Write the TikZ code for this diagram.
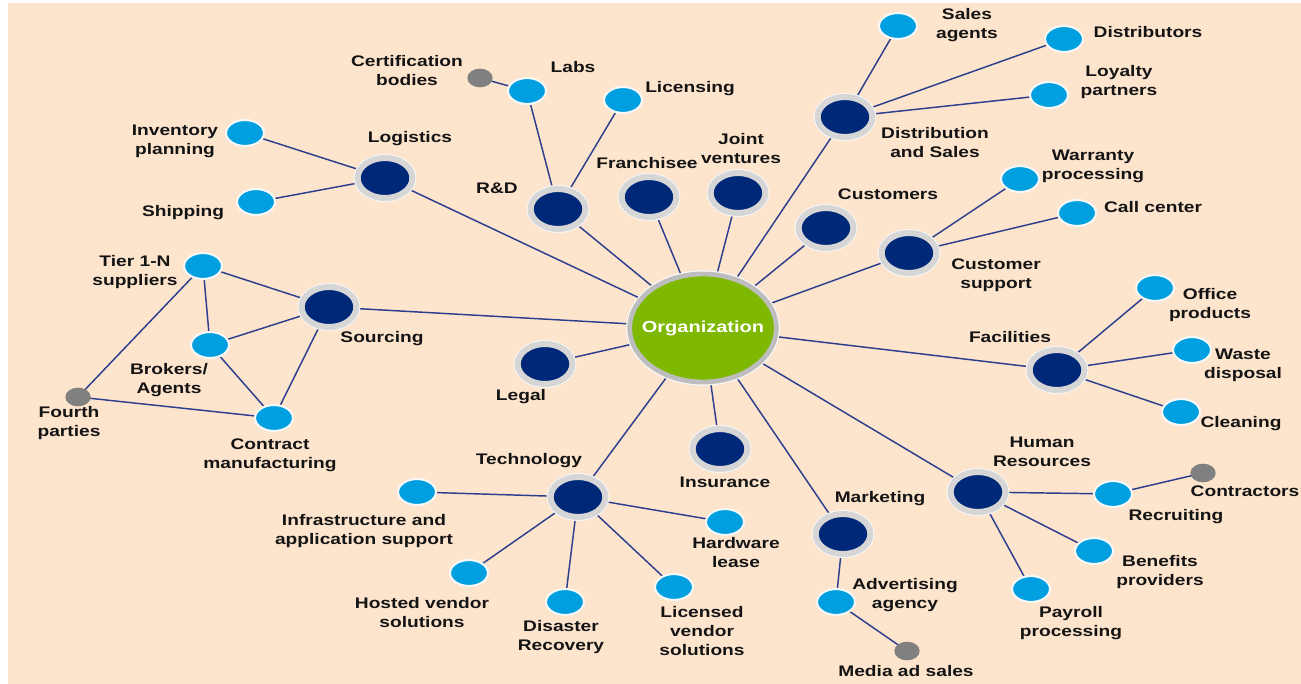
\documentclass[tikz,border=0pt]{standalone}
\usepackage{fontspec}
\setsansfont{Liberation Sans}[FakeStretch=1.25]
\usetikzlibrary{shapes.geometric}
\definecolor{opeach}{HTML}{FDE4CD}
\definecolor{onavy}{HTML}{002878}
\definecolor{osky}{HTML}{009FDF}
\definecolor{ogreen}{HTML}{7FB800}
\definecolor{oring}{HTML}{D6D6D6}
\definecolor{orgring}{HTML}{BDBDBD}
\definecolor{ogrey}{HTML}{808080}
\definecolor{oline}{HTML}{2C3F8E}
\definecolor{otext}{HTML}{141414}
\pgfdeclarelayer{back}
\pgfsetlayers{back,main}

\begin{document}
\begin{tikzpicture}[x=0.75pt,y=-0.75pt,
  every node/.style={font=\sffamily\bfseries\fontsize{11.5}{14.25}\selectfont,text=otext,align=center,inner sep=0pt},
  org/.style={ellipse,inner xsep=-8pt,minimum width=110pt,minimum height=81pt,fill=ogreen,draw=orgring,line width=3.6pt,
    preaction={draw=white!90!orgring,line width=5.4pt},text=white,font=\sffamily\bfseries\fontsize{12}{14}\selectfont},
  hub/.style={ellipse,minimum width=41pt,minimum height=30pt,fill=onavy,draw=oring,line width=4.5pt,
    preaction={draw=white!80!oring,line width=6pt}},
  leaf/.style={ellipse,minimum width=28.5pt,minimum height=19.5pt,fill=osky,draw=white!80!oring,line width=1.6pt},
  dot/.style={ellipse,minimum width=19pt,minimum height=14pt,fill=ogrey},
  link/.style={draw=oline,line width=1.1pt}]
  \useasboundingbox (0,0) rectangle (1301,684);

  % centre and first ring
  \node[org] (org) at (703,328) {Organization};
  \foreach \n/\x/\y in {logistics/385/178,rnd/558/209,franchisee/649/197,jointventures/738/193,
    distribution/845/117,customers/826/228,custsupport/909/253,sourcing/329/307,legal/545/364,
    facilities/1057/370,technology/578/497,insurance/720/449,marketing/843/534,humanres/978/492}
    \node[hub] (\n) at (\x,\y) {};

  % partners
  \foreach \n/\x/\y in {salesagents/898/26,distributors/1064/39,loyalty/1049/95,labs/527/91,licensing/623/100,
    inventory/245/133,shipping/256/202,warranty/1020/179,callcenter/1077/213,tier/203/266,brokers/210/345,
    contract/274/418,office/1155/288,waste/1192/350,cleaning/1181/412,infra/417/492,hardware/725/522,
    hosted/469/573,disaster/565/602,licensed/674/587,advertising/836/602,recruiting/1113/494,
    benefits/1094/551,payroll/1031/589}
    \node[leaf] (\n) at (\x,\y) {};
  \foreach \n/\x/\y in {certification/480/78,fourth/78/397,contractors/1203/473,media/907/651}
    \node[dot] (\n) at (\x,\y) {};

  % labels
  \node (logistics-t) at (410,139) {Logistics};
  \node (rnd-t) at (497,188) {R\&D};
  \node (franchisee-t) at (647,163) {Franchisee};
  \node (jointventures-t) at (741,149) {Joint\\ventures};
  \node (distribution-t) at (935,143) {Distribution\\and Sales};
  \node (customers-t) at (888,194) {Customers};
  \node (custsupport-t) at (996,275) {Customer\\support};
  \node (sourcing-t) at (382,339) {Sourcing};
  \node (legal-t) at (521,397) {Legal};
  \node (facilities-t) at (1010,337) {Facilities};
  \node (technology-t) at (529,461) {Technology};
  \node (insurance-t) at (725,482) {Insurance};
  \node (marketing-t) at (880,499) {Marketing};
  \node (humanres-t) at (1042,452) {Human\\Resources};
  \node (salesagents-t) at (967,25) {Sales\\agents};
  \node (distributors-t) at (1148,32) {Distributors};
  \node (loyalty-t) at (1119,82) {Loyalty\\partners};
  \node (labs-t) at (573,67) {Labs};
  \node (licensing-t) at (690,89) {Licensing};
  \node (certification-t) at (407,71) {Certification\\bodies};
  \node (inventory-t) at (175,141) {Inventory\\planning};
  \node (shipping-t) at (183,213) {Shipping};
  \node (warranty-t) at (1093,166) {Warranty\\processing};
  \node (callcenter-t) at (1153,207) {Call center};
  \node (tier-t) at (135,272) {Tier 1-N\\suppliers};
  \node (brokers-t) at (169,380) {Brokers/\\Agents};
  \node (contract-t) at (270,455) {Contract\\manufacturing};
  \node (fourth-t) at (69,423) {Fourth\\parties};
  \node (office-t) at (1210,305) {Office\\products};
  \node (waste-t) at (1243,365) {Waste\\disposal};
  \node (cleaning-t) at (1241,424) {Cleaning};
  \node (infra-t) at (364,531) {Infrastructure and\\application support};
  \node (hardware-t) at (736,553) {Hardware\\lease};
  \node (hosted-t) at (422,613) {Hosted vendor\\solutions};
  \node (disaster-t) at (561,637) {Disaster\\Recovery};
  \node (licensed-t) at (702,631) {Licensed\\vendor\\solutions};
  \node (advertising-t) at (905,595) {Advertising\\agency};
  \node (recruiting-t) at (1176,517) {Recruiting};
  \node (contractors-t) at (1245,491) {Contractors};
  \node (benefits-t) at (1160,572) {Benefits\\providers};
  \node (payroll-t) at (1071,623) {Payroll\\processing};
  \node (media-t) at (906,671) {Media ad sales};

  \begin{pgfonlayer}{back}
    \fill[white] (0,0) rectangle (1301,684);
    \fill[opeach] (8,3) rectangle (1301,684);
    \foreach \a/\b in {org/logistics,org/rnd,org/franchisee,org/jointventures,org/distribution,
      org/customers,org/custsupport,org/sourcing,org/legal,org/facilities,org/technology,
      org/insurance,org/marketing,org/humanres,
      logistics/inventory,logistics/shipping,rnd/labs,rnd/licensing,labs/certification,
      distribution/salesagents,distribution/distributors,distribution/loyalty,
      custsupport/warranty,custsupport/callcenter,
      sourcing/tier,sourcing/brokers,sourcing/contract,tier/brokers,brokers/contract,
      tier/fourth,fourth/contract,
      facilities/office,facilities/waste,facilities/cleaning,
      technology/infra,technology/hardware,technology/hosted,technology/disaster,technology/licensed,
      marketing/advertising,advertising/media,
      humanres/recruiting,humanres/benefits,humanres/payroll,recruiting/contractors}
      \draw[link] (\a.center) -- (\b.center);
  \end{pgfonlayer}
\end{tikzpicture}
\end{document}
